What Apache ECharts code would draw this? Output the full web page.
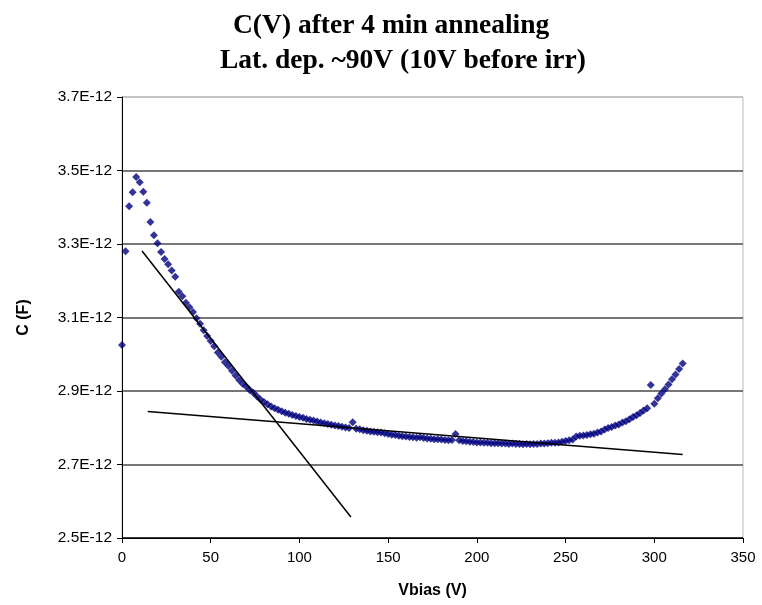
<!DOCTYPE html>
<html>
<head>
<meta charset="utf-8">
<script src="https://cdn.jsdelivr.net/npm/echarts@6/dist/echarts.min.js"></script>
<style>
html,body{margin:0;padding:0;background:#fff;}
#chart{width:762px;height:605px;}
</style>
</head>
<body>
<div id="chart"></div>
<script>
// Bias voltage (V)
const vbias = [
  0,2,4,6,8,10,12,14,16,18,20,22,24,26,28,30,32,34,36,38,
  40,42,44,46,48,50,52,54,56,58,60,62,64,66,68,70,72,74,76,78,
  80,82,84,86,88,90,92,94,96,98,100,102,104,106,108,110,112,114,116,118,
  120,122,124,126,128,130,132,134,136,138,140,142,144,146,148,150,152,154,156,158,
  160,162,164,166,168,170,172,174,176,178,180,182,184,186,188,190,192,194,196,198,
  200,202,204,206,208,210,212,214,216,218,220,222,224,226,228,230,232,234,236,238,
  240,242,244,246,248,250,252,254,256,258,260,262,264,266,268,270,272,274,276,278,
  280,282,284,286,288,290,292,294,296,298,300,302,304,306,308,310,312,314,316
];
// Capacitance, in units of 1E-12 F
const capacitance = [
  3.025,3.280,3.403,3.441,3.482,3.468,3.442,3.412,3.360,3.324,3.302,3.278,3.259,3.245,3.228,3.211,3.170,3.158,3.140,3.128,
  3.115,3.098,3.083,3.065,3.050,3.036,3.022,3.005,2.993,2.978,2.968,2.955,2.942,2.930,2.920,2.912,2.903,2.895,2.886,2.877,
  2.870,2.864,2.858,2.853,2.849,2.845,2.841,2.838,2.835,2.832,2.829,2.827,2.824,2.822,2.820,2.817,2.814,2.812,2.810,2.808,
  2.806,2.805,2.803,2.801,2.799,2.815,2.797,2.796,2.793,2.792,2.790,2.789,2.788,2.787,2.785,2.783,2.781,2.780,2.778,2.777,
  2.776,2.775,2.774,2.773,2.774,2.772,2.771,2.770,2.769,2.769,2.768,2.767,2.766,2.767,2.783,2.766,2.764,2.763,2.762,2.761,
  2.760,2.760,2.759,2.759,2.758,2.758,2.758,2.757,2.757,2.756,2.757,2.756,2.756,2.755,2.756,2.755,2.756,2.756,2.757,2.757,
  2.758,2.759,2.759,2.760,2.762,2.764,2.766,2.768,2.776,2.778,2.779,2.780,2.782,2.784,2.787,2.790,2.795,2.799,2.802,2.806,
  2.809,2.814,2.818,2.823,2.829,2.834,2.840,2.847,2.853,2.916,2.865,2.880,2.893,2.905,2.918,2.932,2.945,2.960,2.975
];
// Hand-drawn tangent lines (V, C in 1E-12 F)
const tangentSteep = [[11.3, 3.281], [129, 2.557]];
const tangentFlat  = [[14.5, 2.844], [316, 2.727]];

const titleLine1 = 'C(V) after 4 min annealing';
const titleLine2 = 'Lat. dep. ~90V (10V before irr)';
const xName = 'Vbias (V)';
const yName = 'C (F)';

const points = vbias.map((v, i) => [v, capacitance[i]]);

const chart = echarts.init(document.getElementById('chart'), null, {renderer: 'canvas'});
const titleStyle = {fontFamily: '"Liberation Serif", "Times New Roman", serif', fontWeight: 'bold', fontSize: 27.5, color: '#000'};
chart.setOption({
  animation: false,
  backgroundColor: '#fff',
  title: [
    {text: titleLine1, left: 233, top: 12, padding: 0, textStyle: titleStyle},
    {text: titleLine2, left: 220, top: 47, padding: 0, textStyle: titleStyle}
  ],
  grid: {left: 122, right: 19, top: 97, bottom: 67, show: true, borderColor: '#bbbbbb', borderWidth: 1, containLabel: false},
  xAxis: {
    type: 'value', min: 0, max: 350, interval: 50,
    name: xName, nameLocation: 'middle', nameGap: 45,
    nameTextStyle: {fontFamily: '"Liberation Sans", Arial, sans-serif', fontWeight: 'bold', fontSize: 16, color: '#000'},
    axisLine: {show: true, lineStyle: {color: '#000', width: 1}},
    axisTick: {show: true, inside: false, length: 5, lineStyle: {color: '#000'}},
    axisLabel: {fontFamily: '"Liberation Sans", Arial, sans-serif', fontSize: 15, color: '#000', margin: 12},
    splitLine: {show: false}
  },
  yAxis: {
    type: 'value', min: 2.5, max: 3.7, interval: 0.2,
    name: yName, nameLocation: 'middle', nameGap: 90, nameRotate: 90,
    nameTextStyle: {fontFamily: '"Liberation Sans", Arial, sans-serif', fontWeight: 'bold', fontSize: 16, color: '#000'},
    axisLine: {show: true, lineStyle: {color: '#000', width: 1}},
    axisTick: {show: true, inside: false, length: 5, lineStyle: {color: '#000'}},
    axisLabel: {fontFamily: '"Liberation Sans", Arial, sans-serif', fontSize: 15.5, color: '#000', margin: 10,
      formatter: v => v.toFixed(1) + 'E-12'},
    splitLine: {show: true, lineStyle: {color: ['#000', '#4a4a4a', '#4a4a4a', '#4a4a4a', '#4a4a4a', '#4a4a4a', '#bbbbbb'], width: 1.5}}
  },
  series: [
    {type: 'scatter', data: points, symbol: 'diamond', symbolSize: 8,
     itemStyle: {color: '#000080'}, z: 3},
    {type: 'line', data: tangentSteep, symbol: 'none', lineStyle: {color: '#000', width: 1.5}, z: 4},
    {type: 'line', data: tangentFlat, symbol: 'none', lineStyle: {color: '#000', width: 1.5}, z: 4}
  ]
});
</script>
</body>
</html>
